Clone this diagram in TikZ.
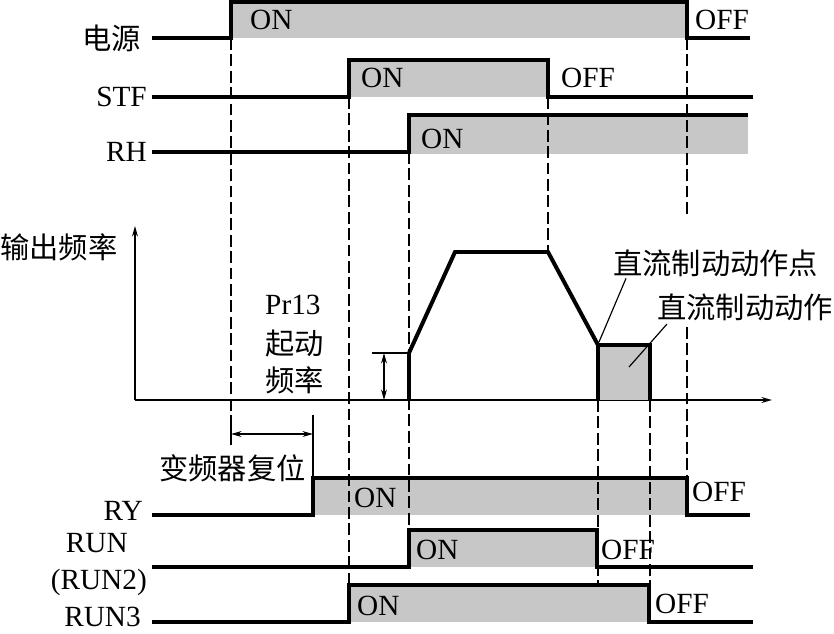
\documentclass[tikz,border=0pt]{standalone}
\usepackage{fontspec}
\setmainfont{Liberation Serif}
\newfontfamily\cjk{Noto Sans CJK SC}
\usetikzlibrary{arrows.meta}

\tikzset{
  sig/.style={line width=3.4pt},
  onfill/.style={fill=black!22},
  guide/.style={line width=1.2pt,dash pattern=on 10pt off 4pt},
  axis/.style={line width=1.7pt},
  thin/.style={line width=1pt},
  txt/.style={font=\fontsize{25}{27}\selectfont,inner sep=0pt},
  tip/.style={-{Stealth[length=9pt,width=5pt,inset=3pt]}},
}

\begin{document}
\begin{tikzpicture}[x=0.03cm,y=-0.03cm]
\useasboundingbox (0,0) rectangle (834,633);

% signal names
\node[txt,anchor=east] (pwr) at (141,38) {\cjk 电源};
\node[txt,anchor=east] (stf) at (147,97) {STF};
\node[txt,anchor=east] (rh) at (147,152) {RH};
\node[txt,anchor=east] (ry) at (143,511) {RY};
\node[txt,anchor=east] (run) at (128,543) {RUN};
\node[txt,anchor=east] (run2) at (147,582) {(RUN2)};
\node[txt,anchor=east] (run3) at (141,617) {RUN3};

% timing signals: low y / high y / rise / fall / end
\foreach \yl/\yh/\xa/\xb/\xe in {38/2/231/687/750,97/60/349/548/753,515/478/313/687/750,567/530/409/597/753,622/585/349/649/753}
{
  \fill[onfill] (\xa,\yh) rectangle (\xb,\yl);
  \draw[sig] (152,\yl) -- (\xa,\yl) -- (\xa,\yh) -- (\xb,\yh) -- (\xb,\yl) -- (\xe,\yl);
}
\fill[onfill] (409,115) rectangle (748,154);
\draw[sig] (152,152) -- (409,152) -- (409,115) -- (748,115);

% ON / OFF
\foreach \x/\y/\t [count=\i] in {250/20/ON,361/78/ON,421/139/ON,354/498/ON,416/550/ON,357/606/ON,695/20/OFF,561/78/OFF,692/492/OFF,601/550/OFF,655/604/OFF}
  \node[txt,anchor=west] (st\i) at (\x,\y) {\t};

% guide lines
\draw[guide] (231,38) -- (231,420);
\draw[thin] (231,420) -- (231,445);
\draw[guide] (349,97) -- (349,585);
\draw[guide] (409,152) -- (409,530);
\draw[guide] (548,97) -- (548,252);
\draw[guide] (687,38) -- (687,217);
\draw[guide] (687,327) -- (687,478);
\draw[guide] (598,400) -- (598,585);
\draw[guide] (650,400) -- (650,585);

% output frequency
\coordinate (org) at (135,400);
\draw[axis,tip] (org) -- (135,226);
\draw[axis,tip] (org) -- (772,400);
\node[txt,anchor=west] (fout) at (0,247) {\cjk 输出频率};
\fill[onfill] (598,345) rectangle (650,400);
\draw[sig,line join=miter] (409,400) -- (409,353) -- (455,252) -- (548,252) -- (598,345) -- (598,400);
\draw[sig,line join=miter] (598,345) -- (650,345) -- (650,400);

% start frequency
\draw[thin] (372,353) -- (409,353);
\draw[thin,{Stealth[length=9pt,width=5pt,inset=3pt]}-{Stealth[length=9pt,width=5pt,inset=3pt]}] (384,353) -- (384,400);
\node[txt,anchor=west] (pr) at (265,305) {Pr13};
\node[txt,anchor=west] (pr2) at (265,343) {\cjk 起动};
\node[txt,anchor=west] (pr3) at (265,380) {\cjk 频率};

% dc braking
\node[txt,anchor=west] (dcp) at (613,263) {\cjk 直流制动动作点};
\node[txt,anchor=west] (dca) at (657,307) {\cjk 直流制动动作};
\coordinate (dcpt) at (599,342);
\coordinate (dcbox) at (629,367);
\draw[thin] ([xshift=0.39cm,yshift=-0.05cm]dcp.south west) -- (dcpt);
\draw[thin] ([xshift=0.3cm,yshift=-0.1cm]dca.south west) -- (dcbox);

% inverter reset
\draw[thin] (313,415) -- (313,478);
\draw[thin,{Stealth[length=9pt,width=5pt,inset=3pt]}-{Stealth[length=9pt,width=5pt,inset=3pt]}] (231,434) -- (313,434);
\node[txt,anchor=east] (rst) at (306,468) {\cjk 变频器复位};
\end{tikzpicture}
\end{document}
